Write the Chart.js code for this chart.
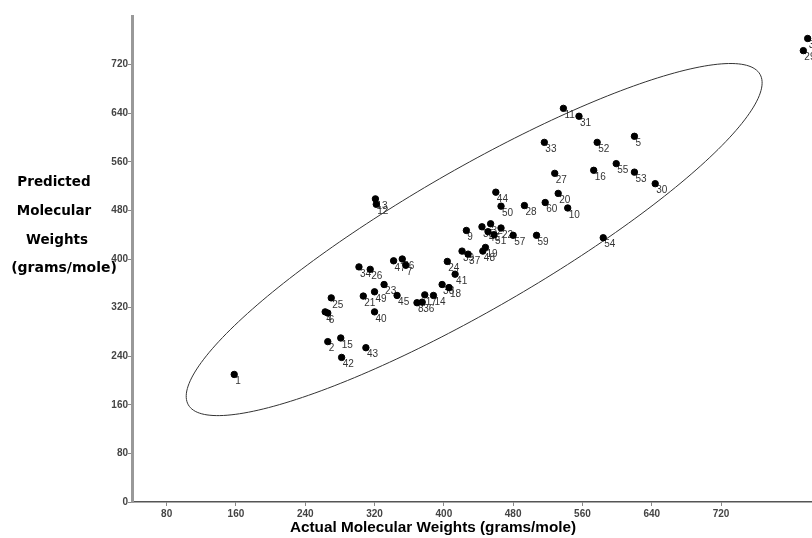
<!DOCTYPE html>
<html>
<head>
<meta charset="utf-8">
<script src="https://cdn.jsdelivr.net/npm/chart.js@4.4.1/dist/chart.umd.min.js"></script>
<style>
  html, body { margin: 0; padding: 0; background: #fff; }
  #wrap { width: 812px; height: 538px; position: relative; }
</style>
</head>
<body>
<div id="wrap"><canvas id="c" width="812" height="538"></canvas></div>
<script>
// ---- data ----
const pointLabels = ["1","2","3","29","4","6","5","7","47","56","8","9","10","11","12","13","14","15","16","17","18","19","20","21","22","23","24","25","26","27","28","30","31","32","33","34","35","36","37","38","39","40","41","42","43","44","45","46","48","49","50","51","52","53","54","55","57","59","60"];
const actualMW =    [158,266,820,815,263,266,620,356,342,352,369,426,543,538,322,321,388,281,573,378,406,448,532,307,466,331,404,270,315,528,493,644,556,454,516,302,444,375,428,398,421,320,413,282,310,460,346,451,445,320,466,458,577,620,584,599,480,507,517];
const predictedMW = [210,264,763,743,313,311,602,390,397,400,328,447,484,648,490,499,340,270,546,341,353,419,508,339,451,358,396,336,383,541,488,524,635,458,592,387,453,329,408,358,413,313,375,238,254,510,340,445,413,346,487,440,592,543,435,557,439,439,493];

const xTickValues = [80,160,240,320,400,480,560,640,720];
const yTickValues = [0,80,160,240,320,400,480,560,640,720];

// confidence ellipse (data units): centre and two conjugate semi-axis vectors
const ellipseCenter = [435, 432];
const ellipseAxisU = [330, 272];
const ellipseAxisV = [40, -100];

const xTitle = "Actual Molecular Weights (grams/mole)";
const yTitleLines = ["Predicted", "Molecular", "Weights", "(grams/mole)"];

const points = actualMW.map((x, i) => ({ x: x, y: predictedMW[i] }));

const ellipsePlugin = {
  id: 'ellipse',
  beforeDatasetsDraw(chart) {
    const ctx = chart.ctx, xs = chart.scales.x, ys = chart.scales.y;
    ctx.save();
    ctx.beginPath();
    const n = 240;
    for (let k = 0; k <= n; k++) {
      const t = (k / n) * Math.PI * 2;
      const dx = ellipseCenter[0] + ellipseAxisU[0] * Math.cos(t) + ellipseAxisV[0] * Math.sin(t);
      const dy = ellipseCenter[1] + ellipseAxisU[1] * Math.cos(t) + ellipseAxisV[1] * Math.sin(t);
      const px = xs.getPixelForValue(dx), py = ys.getPixelForValue(dy);
      if (k === 0) ctx.moveTo(px, py); else ctx.lineTo(px, py);
    }
    ctx.closePath();
    ctx.strokeStyle = '#333';
    ctx.lineWidth = 1;
    ctx.stroke();
    ctx.restore();
  }
};

const labelPlugin = {
  id: 'pointLabels',
  beforeDatasetsDraw(chart) {
    const ctx = chart.ctx;
    const meta = chart.getDatasetMeta(0);
    ctx.save();
    ctx.font = '10px "Liberation Sans", Arial, sans-serif';
    ctx.fillStyle = '#333';
    ctx.textBaseline = 'top';
    ctx.textAlign = 'left';
    meta.data.forEach((el, i) => {
      ctx.fillText(pointLabels[i], el.x + 1, el.y + 2);
    });
    ctx.restore();
  }
};

const titlePlugin = {
  id: 'titles',
  afterDraw(chart) {
    const ctx = chart.ctx;
    ctx.save();
    ctx.fillStyle = '#000';
    ctx.textAlign = 'center';
    ctx.textBaseline = 'middle';
    ctx.font = 'bold 13.5px "DejaVu Sans", sans-serif';
    ctx.fillText(yTitleLines[0], 54, 182);
    ctx.fillText(yTitleLines[1], 54, 211);
    ctx.fillText(yTitleLines[2], 57, 240);
    ctx.font = 'bold 14px "DejaVu Sans", sans-serif';
    ctx.fillText(yTitleLines[3], 64, 268);
    ctx.font = 'bold 15.3px "Liberation Sans", Arial, sans-serif';
    ctx.fillText(xTitle, 433, 528);
    ctx.restore();
  }
};

new Chart(document.getElementById('c'), {
  type: 'scatter',
  data: {
    datasets: [{
      data: points,
      backgroundColor: '#000',
      borderColor: '#000',
      pointRadius: 3.2,
      pointHoverRadius: 3.2,
      clip: false
    }]
  },
  options: {
    responsive: false,
    animation: false,
    events: [],
    layout: { autoPadding: false, padding: { top: 16, left: 0, right: 0, bottom: 0 } },
    plugins: { legend: { display: false }, tooltip: { enabled: false }, title: { display: false } },
    scales: {
      x: {
        type: 'linear',
        min: 40, max: 825,
        afterBuildTicks: s => { s.ticks = xTickValues.map(v => ({ value: v })); },
        afterFit: s => { s.height = 36; s.paddingLeft = 0; s.paddingRight = 0; },
        ticks: {
          autoSkip: false, maxRotation: 0, minRotation: 0, padding: 2,
          color: '#444', font: { family: '"Liberation Sans", Arial, sans-serif', size: 10, weight: 'bold' }
        },
        grid: { display: true, drawOnChartArea: false, drawTicks: true, tickLength: 4, color: '#888' },
        border: { display: true, color: '#555', width: 1.5 }
      },
      y: {
        type: 'linear',
        min: 0, max: 800,
        afterBuildTicks: s => { s.ticks = yTickValues.map(v => ({ value: v })); },
        afterFit: s => { s.width = 132; s.paddingTop = 0; s.paddingBottom = 0; },
        ticks: {
          autoSkip: false, padding: 0,
          color: '#444', font: { family: '"Liberation Sans", Arial, sans-serif', size: 10, weight: 'bold' }
        },
        grid: { display: true, drawOnChartArea: false, drawTicks: true, tickLength: 4, color: '#888' },
        border: { display: true, color: '#999', width: 3 }
      }
    }
  },
  plugins: [ellipsePlugin, labelPlugin, titlePlugin]
});
</script>
</body>
</html>
